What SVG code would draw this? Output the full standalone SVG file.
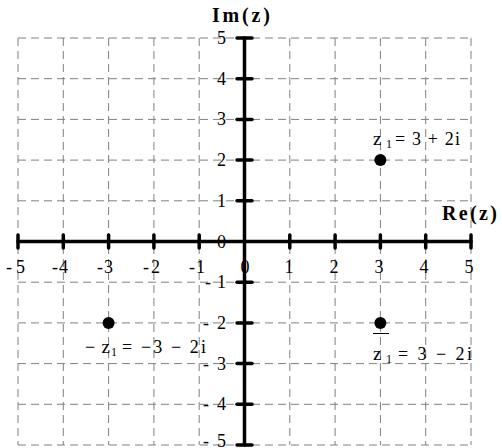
<svg xmlns="http://www.w3.org/2000/svg" width="502" height="448" viewBox="0 0 502 448">
<style>
.grid line{stroke:#808080;stroke-width:1;stroke-dasharray:8 5}
.axis{stroke:#000;stroke-width:3.5;stroke-linecap:round}
.tick{stroke:#000;stroke-width:3.5;stroke-linecap:round}
</style>
<rect width="502" height="448" fill="#fff"/>
<g id="grid" class="grid">
<line x1="18" y1="38" x2="471" y2="38"/>
<line x1="18" y1="78.7" x2="471" y2="78.7"/>
<line x1="18" y1="119.4" x2="471" y2="119.4"/>
<line x1="18" y1="160.1" x2="471" y2="160.1"/>
<line x1="18" y1="200.8" x2="471" y2="200.8"/>
<line x1="18" y1="282.2" x2="471" y2="282.2"/>
<line x1="18" y1="322.9" x2="471" y2="322.9"/>
<line x1="18" y1="363.6" x2="471" y2="363.6"/>
<line x1="18" y1="404.3" x2="471" y2="404.3"/>
<line x1="18" y1="445" x2="471" y2="445"/>
<line x1="18" y1="38" x2="18" y2="445"/>
<line x1="63.3" y1="38" x2="63.3" y2="445"/>
<line x1="108.6" y1="38" x2="108.6" y2="445"/>
<line x1="153.9" y1="38" x2="153.9" y2="445"/>
<line x1="199.2" y1="38" x2="199.2" y2="445"/>
<line x1="289.8" y1="38" x2="289.8" y2="445"/>
<line x1="335.1" y1="38" x2="335.1" y2="445"/>
<line x1="380.4" y1="38" x2="380.4" y2="445"/>
<line x1="425.7" y1="38" x2="425.7" y2="445"/>
<line x1="471" y1="38" x2="471" y2="445"/>
</g>
<g id="axes">
<line class="axis" x1="18" y1="241.5" x2="471" y2="241.5"/>
<line class="axis" x1="244.5" y1="38" x2="244.5" y2="445"/>
<g class="tick">
<line x1="18" y1="235" x2="18" y2="248"/>
<line x1="63.3" y1="235" x2="63.3" y2="248"/>
<line x1="108.6" y1="235" x2="108.6" y2="248"/>
<line x1="153.9" y1="235" x2="153.9" y2="248"/>
<line x1="199.2" y1="235" x2="199.2" y2="248"/>
<line x1="289.8" y1="235" x2="289.8" y2="248"/>
<line x1="335.1" y1="235" x2="335.1" y2="248"/>
<line x1="380.4" y1="235" x2="380.4" y2="248"/>
<line x1="425.7" y1="235" x2="425.7" y2="248"/>
<line x1="471" y1="235" x2="471" y2="248"/>
<line x1="237" y1="38" x2="252" y2="38"/>
<line x1="237" y1="78.7" x2="252" y2="78.7"/>
<line x1="237" y1="119.4" x2="252" y2="119.4"/>
<line x1="237" y1="160.1" x2="252" y2="160.1"/>
<line x1="237" y1="200.8" x2="252" y2="200.8"/>
<line x1="237" y1="282.2" x2="252" y2="282.2"/>
<line x1="237" y1="322.9" x2="252" y2="322.9"/>
<line x1="237" y1="363.6" x2="252" y2="363.6"/>
<line x1="237" y1="404.3" x2="252" y2="404.3"/>
<line x1="237" y1="445" x2="252" y2="445"/>
</g>
</g>
<g id="labels" font-family="'Liberation Serif', 'Times New Roman', serif" font-size="18" fill="#000">
<g id="xlabels">
<text x="6" y="273" textLength="19" lengthAdjust="spacing">-5</text>
<text x="52" y="273" textLength="16" lengthAdjust="spacing">-4</text>
<text x="97" y="273" textLength="16" lengthAdjust="spacing">-3</text>
<text x="143" y="273" textLength="17" lengthAdjust="spacing">-2</text>
<text x="189" y="273" textLength="16" lengthAdjust="spacing">-1</text>
<g text-anchor="middle">
<text x="245" y="273">0</text>
<text x="289" y="273">1</text>
<text x="334" y="273">2</text>
<text x="379" y="273">3</text>
<text x="424" y="273">4</text>
<text x="469" y="273">5</text>
</g>
</g>
<g id="ylabels" text-anchor="end">
<text x="226" y="44">5</text>
<text x="226" y="84.7">4</text>
<text x="226" y="125.4">3</text>
<text x="226" y="166.1">2</text>
<text x="226" y="206.8">1</text>
<text x="226" y="247.5">0</text>
</g>
<g id="ylabelsneg">
<text x="205" y="288.2" textLength="21" lengthAdjust="spacing">-1</text>
<text x="203" y="328.9" textLength="23" lengthAdjust="spacing">-2</text>
<text x="203" y="369.6" textLength="23" lengthAdjust="spacing">-3</text>
<text x="203" y="410.3" textLength="23" lengthAdjust="spacing">-4</text>
<text x="203" y="447" textLength="23" lengthAdjust="spacing">-5</text>
</g>
<text id="im" font-weight="bold" font-size="20" x="212" y="22" textLength="58" lengthAdjust="spacing">Im(z)</text>
<text id="re" font-weight="bold" font-size="20" x="442" y="220" textLength="55" lengthAdjust="spacing">Re(z)</text>
<g id="z1">
<circle cx="380.4" cy="160.1" r="6"/>
<text x="373" y="145" font-size="19">z</text>
<text x="386" y="148" font-size="12">1</text>
<text x="395" y="145" textLength="65" lengthAdjust="spacing">= 3 + 2i</text>
</g>
<g id="negz1">
<circle cx="108.6" cy="322.9" r="6"/>
<text x="85" y="353" textLength="25" lengthAdjust="spacing">−<tspan font-size="19">z</tspan></text>
<text x="111" y="356" font-size="12">1</text>
<text x="122" y="353" textLength="84" lengthAdjust="spacing">= −3 − 2i</text>
</g>
<g id="conjz1">
<circle cx="380.4" cy="322.9" r="6"/>
<line x1="373" y1="333.5" x2="389" y2="333.5" stroke="#000" stroke-width="1"/>
<text x="373" y="360" font-size="19">z</text>
<text x="386" y="363" font-size="12">1</text>
<text x="398" y="360" textLength="74" lengthAdjust="spacing">= 3 − 2i</text>
</g>
</g>
</svg>
